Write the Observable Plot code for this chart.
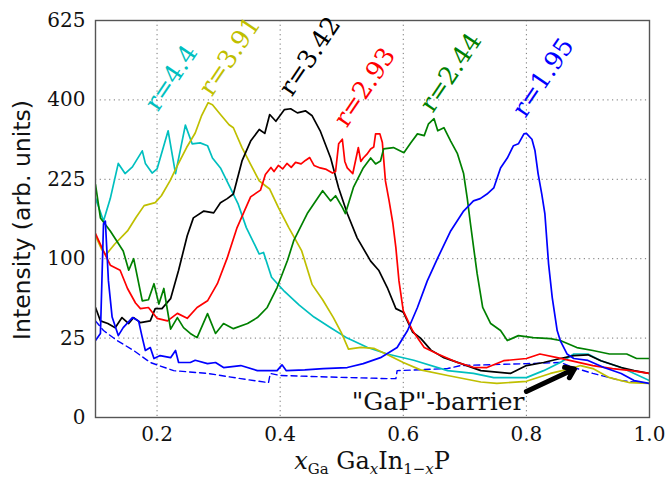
<!DOCTYPE html>
<html><head><meta charset="utf-8">
<script src="https://cdn.jsdelivr.net/npm/d3@7"></script>
<script src="https://cdn.jsdelivr.net/npm/@observablehq/plot@0.6"></script>
<style>body{margin:0;background:#fff}</style>
</head><body><div id="chart"></div>
<script>
const xTicks = [0.2, 0.4, 0.6, 0.8, 1.0];
const yTicks = [0, 25, 100, 225, 400, 625];
const seriesNames = ["r=4.4", "r=3.91", "r=3.42", "r=2.93", "r=2.44", "r=1.95"];
const seriesColors = ["#00bfbf", "#bfbf00", "#000000", "#ff0000", "#008000", "#0000ff"];

const r44 = [[0.100,191],[0.113,153],[0.124,190],[0.137,256],[0.148,236],[0.160,249],[0.176,282],[0.181,256],[0.192,237],[0.200,245],[0.218,326],[0.230,236],[0.246,339],[0.257,297],[0.270,299],[0.282,293],[0.290,267],[0.303,247],[0.319,209],[0.332,180],[0.345,143],[0.366,106],[0.373,108],[0.386,78],[0.407,63],[0.431,50],[0.455,40],[0.482,32],[0.509,25],[0.542,19.4],[0.574,16],[0.617,13],[0.672,8.7],[0.714,7.7],[0.747,6.3],[0.800,6.3],[0.828,8.7],[0.855,12],[0.877,16],[0.900,16],[0.921,12.8],[0.954,9.9],[1.0,5.4]];
const r391 = [[0.100,131],[0.110,112],[0.117,105],[0.131,119],[0.152,138],[0.166,159],[0.179,178],[0.197,183],[0.207,195],[0.221,222],[0.234,254],[0.248,289],[0.262,321],[0.272,360],[0.283,393],[0.290,388],[0.303,364],[0.317,340],[0.324,333],[0.338,289],[0.352,254],[0.366,222],[0.376,213],[0.383,207],[0.397,175],[0.414,143],[0.435,110],[0.452,70],[0.469,55],[0.486,40],[0.500,28],[0.511,18.5],[0.531,19.5],[0.552,19],[0.572,16],[0.600,12],[0.628,9],[0.672,7],[0.726,5],[0.752,4.6],[0.800,5.2],[0.839,7.7],[0.872,9.5],[0.888,10.7],[0.908,9.5],[0.935,6.3],[0.968,4.8],[1.0,4.6]];
const r342 = [[0.100,48],[0.108,37],[0.120,35],[0.132,32],[0.143,39.6],[0.154,35],[0.162,39.6],[0.173,35.7],[0.189,37],[0.197,47],[0.208,47],[0.222,56],[0.235,86],[0.249,131],[0.259,158],[0.276,169],[0.292,166],[0.303,183],[0.314,190],[0.324,198],[0.338,261],[0.352,303],[0.366,329],[0.375,320],[0.383,364],[0.393,348],[0.407,376],[0.417,378],[0.428,368],[0.441,373],[0.452,361],[0.465,326],[0.482,267],[0.495,209],[0.509,165],[0.525,128],[0.547,97],[0.560,86],[0.574,67],[0.588,47],[0.600,44],[0.615,29],[0.628,25],[0.645,18],[0.666,14.2],[0.694,11.5],[0.726,8.7],[0.774,7.7],[0.800,10.7],[0.828,12],[0.855,13.8],[0.877,15.2],[0.900,15.6],[0.921,12.8],[0.954,9.9],[0.975,8.7],[1.0,7.7]];
const r293 = [[0.100,134],[0.110,115],[0.124,92],[0.140,86],[0.152,66],[0.165,52],[0.173,47],[0.186,48],[0.200,39],[0.217,37],[0.233,43],[0.249,39],[0.265,48],[0.282,54],[0.298,71],[0.314,101],[0.330,143],[0.352,193],[0.368,205],[0.376,234],[0.385,248],[0.390,240],[0.397,252],[0.404,245],[0.411,256],[0.418,248],[0.425,258],[0.434,255],[0.441,262],[0.448,268],[0.455,252],[0.465,247],[0.475,244],[0.485,237],[0.490,240],[0.495,297],[0.501,307],[0.505,260],[0.509,247],[0.518,236],[0.527,289],[0.531,260],[0.535,267],[0.541,275],[0.547,286],[0.552,290],[0.555,319],[0.562,319],[0.566,300],[0.571,222],[0.577,186],[0.583,150],[0.588,114],[0.593,74],[0.600,45],[0.615,30],[0.634,19.4],[0.656,16],[0.688,12],[0.714,10],[0.736,9.9],[0.763,12.8],[0.800,13.8],[0.822,16],[0.850,14.2],[0.872,12.8],[0.908,10.7],[0.940,9.5],[0.970,8.7],[1.0,7.7]];
const r244 = [[0.100,215],[0.108,158],[0.124,138],[0.145,110],[0.154,86],[0.162,100],[0.176,54],[0.186,55],[0.195,71],[0.203,51],[0.211,66],[0.222,31],[0.233,39.6],[0.243,32],[0.254,28],[0.265,25.3],[0.282,42.8],[0.295,28],[0.308,35],[0.324,31.3],[0.347,35],[0.363,39.6],[0.379,48],[0.395,67],[0.412,98],[0.422,124],[0.444,165],[0.469,204],[0.482,186],[0.490,195],[0.501,175],[0.506,165],[0.519,210],[0.535,247],[0.547,267],[0.555,255],[0.563,261],[0.568,286],[0.584,289],[0.601,278],[0.612,299],[0.623,319],[0.634,315],[0.641,342],[0.650,354],[0.656,326],[0.666,333],[0.677,303],[0.688,276],[0.698,236],[0.704,190],[0.709,150],[0.715,110],[0.720,82],[0.729,48],[0.742,35],[0.758,30],[0.769,23.5],[0.787,26.6],[0.811,25.3],[0.839,24.7],[0.855,23.5],[0.882,19.4],[0.908,17.8],[0.935,16],[0.963,16],[0.979,13.8],[1.0,13.8]];
const r195 = [[0.100,23.5],[0.108,28],[0.113,149],[0.116,153],[0.121,74],[0.127,40],[0.137,26.6],[0.145,32],[0.160,39.6],[0.170,37],[0.176,25.3],[0.181,17.8],[0.189,19.4],[0.195,13.8],[0.205,15.2],[0.222,14.2],[0.230,17.8],[0.235,12],[0.254,12],[0.262,13],[0.282,11.5],[0.295,12],[0.308,9.9],[0.336,10.7],[0.363,8.7],[0.395,8.7],[0.403,11],[0.410,8.7],[0.440,9],[0.470,9.5],[0.509,9.9],[0.535,11.5],[0.563,14.2],[0.590,19.4],[0.607,30],[0.623,48],[0.639,74],[0.656,101],[0.677,138],[0.698,169],[0.714,186],[0.725,190],[0.736,198],[0.747,209],[0.758,247],[0.769,267],[0.779,293],[0.787,297],[0.796,319],[0.800,320],[0.809,307],[0.814,282],[0.819,236],[0.825,198],[0.830,165],[0.836,94],[0.842,57],[0.850,30],[0.855,23.5],[0.866,16],[0.877,13.8],[0.900,12.9],[0.926,9.9],[0.954,7.7],[0.975,5.4],[1.0,4.6]];
const r195Base = [[0.100,37],[0.113,30],[0.135,23.5],[0.162,17.8],[0.189,12],[0.227,8.7],[0.282,7.7],[0.336,6],[0.381,4.8],[0.384,7.7],[0.400,7],[0.480,6.5],[0.574,6],[0.588,6],[0.590,8.7],[0.672,9.5],[0.693,10.7],[0.800,11.5],[0.855,12],[0.877,9.9],[0.908,7.7],[0.954,5.4],[1.0,4.6]];

const labelX = [0.201, 0.289, 0.419, 0.508, 0.648, 0.798];
const labelY = [369, 406, 406, 331, 366, 354];
const arrowX = [0.800, 0.878];
const arrowY = [2.7, 9.3];
const noteText = "\"GaP\"-barrier";
const noteX = 0.797, noteY = 0.9;

const allSeries = [r44, r391, r342, r293, r244, r195];
const rows = allSeries.flatMap((s, i) => s.map(([x, y]) => ({x, y, r: seriesNames[i]})));
const baseRows = r195Base.map(([x, y]) => ({x, y}));
const labels = seriesNames.map((n, i) => ({name: n, x: labelX[i], y: labelY[i], c: seriesColors[i]}));

const W = 665, H = 479, mL = 95, mR = 16, mT = 20, mB = 62;
const chart = Plot.plot({
  width: W, height: H,
  marginLeft: mL, marginRight: mR, marginTop: mT, marginBottom: mB,
  style: {fontFamily: "DejaVu Serif", background: "white", overflow: "visible"},
  x: {domain: [0.1, 1.0], ticks: xTicks, tickFormat: d3.format(".1f"), label: null},
  y: {type: "sqrt", domain: [0, 625], ticks: yTicks, label: null},
  color: {domain: seriesNames, range: seriesColors},
  marks: [
    Plot.gridX(xTicks, {stroke: "#000", strokeOpacity: 0.55, strokeDasharray: "1.2,3.5", strokeWidth: 1}),
    Plot.gridY(yTicks, {stroke: "#000", strokeOpacity: 0.55, strokeDasharray: "1.2,3.5", strokeWidth: 1}),
    Plot.line(baseRows, {x: "x", y: "y", stroke: "#0000ff", strokeWidth: 1.4, strokeDasharray: "6,4", clip: true}),
    Plot.line(rows, {x: "x", y: "y", z: "r", stroke: "r", strokeWidth: 1.7, clip: true}),
    Plot.frame({stroke: "#555", strokeWidth: 1.4}),
    Plot.axisX(xTicks, {tickSize: 0, tickPadding: 9, fontSize: 20, tickFormat: d3.format(".1f"), fill: "#111"}),
    Plot.axisY(yTicks, {tickSize: 0, tickPadding: 10, fontSize: 20, fill: "#111"}),
    Plot.text(labels, {x: "x", y: "y", text: "name", fill: "c", rotate: -56, textAnchor: "start", lineAnchor: "bottom", fontSize: 25, fontFamily: "DejaVu Serif"}),
    Plot.arrow([{x1: arrowX[0], y1: arrowY[0], x2: arrowX[1], y2: arrowY[1]}], {x1: "x1", y1: "y1", x2: "x2", y2: "y2", stroke: "#000", strokeWidth: 5, headLength: 3, headAngle: 70}),
    Plot.text([noteText], {x: noteX, y: noteY, text: d => d, textAnchor: "end", lineAnchor: "middle", fontSize: 25, fontFamily: "DejaVu Serif", fill: "#111"})
  ]
});
document.getElementById("chart").appendChild(chart);

const svg = d3.select(chart);
svg.append("text")
  .attr("transform", `translate(22,220) rotate(-90)`)
  .attr("text-anchor", "middle").attr("dominant-baseline", "central")
  .style("font-family", "DejaVu Sans").style("font-size", "23.5px").attr("fill", "#111")
  .text("Intensity (arb. units)");
const xl = svg.append("text")
  .attr("x", (mL + W - mR) / 2).attr("y", 469)
  .attr("text-anchor", "middle")
  .style("font-family", "DejaVu Serif").style("font-size", "24px").attr("fill", "#111");
xl.append("tspan").style("font-style", "italic").text("x");
xl.append("tspan").attr("dy", 5).style("font-size", "15px").text("Ga");
xl.append("tspan").attr("dy", -5).text(" Ga");
xl.append("tspan").attr("dy", 5).style("font-size", "15px").style("font-style", "italic").text("x");
xl.append("tspan").attr("dy", -5).text("In");
xl.append("tspan").attr("dy", 5).style("font-size", "15px").text("1−");
xl.append("tspan").style("font-size", "15px").style("font-style", "italic").text("x");
xl.append("tspan").attr("dy", -5).text("P");
</script>
</body></html>
